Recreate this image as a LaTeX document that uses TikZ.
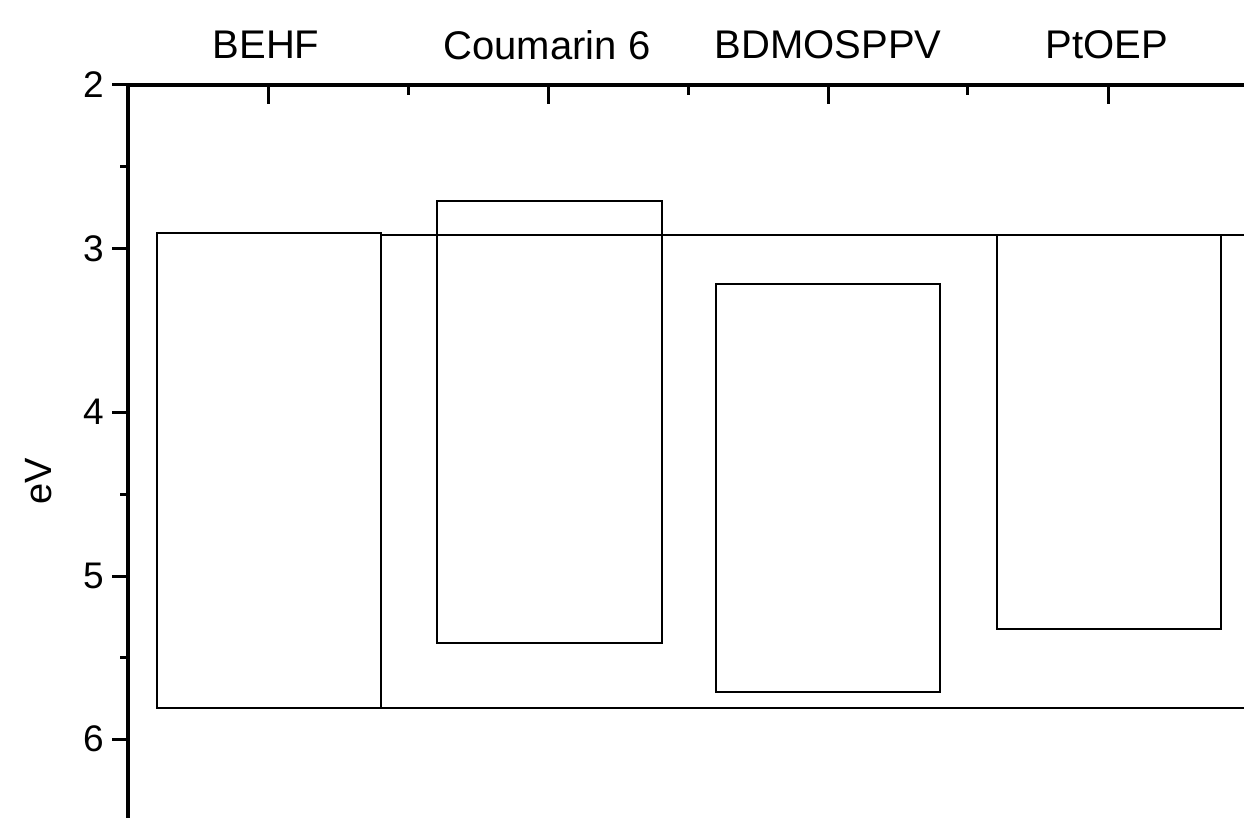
\documentclass[tikz,border=0pt]{standalone}
\usepackage{fontspec}
\setmainfont{Liberation Sans}
\begin{document}
\begin{tikzpicture}[x=1pt,y=-1pt,
  axis/.style={line width=3.5pt},
  tick/.style={line width=3pt},
  lvl/.style={line width=1.8pt},
  ticklab/.style={font=\fontsize{37}{37}\selectfont, anchor=east, inner sep=0pt},
  toplab/.style={font=\fontsize{40}{40}\selectfont, inner sep=0pt}]
\useasboundingbox (0,0) rectangle (1244,818);
\fill[white] (0,0) rectangle (1244,818);
% axes
\draw[axis] (128,818) -- (128,85) -- (1244,85);
% left ticks
\foreach \y/\l in {85/2,249/3,412/4,576/5,739/6}{
  \draw[tick] (112,\y) -- (128,\y);
  \node[ticklab] at (104,\y) {\l};
}
\foreach \y in {167,494,657}{\draw[tick] (120,\y) -- (128,\y);}
% top ticks
\foreach \x in {268,548,828,1108}{\draw[tick] (\x,85) -- (\x,104);}
\foreach \x in {408,688,967}{\draw[tick] (\x,85) -- (\x,95);}
% top labels
\node[toplab] (l1) at (266,45) {BEHF};
\node[toplab] (l2) at (547,45) {Coumarin 6};
\node[toplab] (l3) at (828,45) {BDMOSPPV};
\node[toplab] (l4) at (1107,45) {PtOEP};
% y label
\node[font=\fontsize{38}{38}\selectfont, rotate=90, inner sep=0pt] (ev) at (39,481) {eV};
% energy levels
\draw[lvl] (157,233) rectangle (381,708);
\draw[lvl] (381,235) -- (1244,235);
\draw[lvl] (381,708) -- (1244,708);
\draw[lvl] (437,201) rectangle (662,643);
\draw[lvl] (716,284) rectangle (940,692);
\draw[lvl] (997,235) rectangle (1221,629);
\end{tikzpicture}
\end{document}
